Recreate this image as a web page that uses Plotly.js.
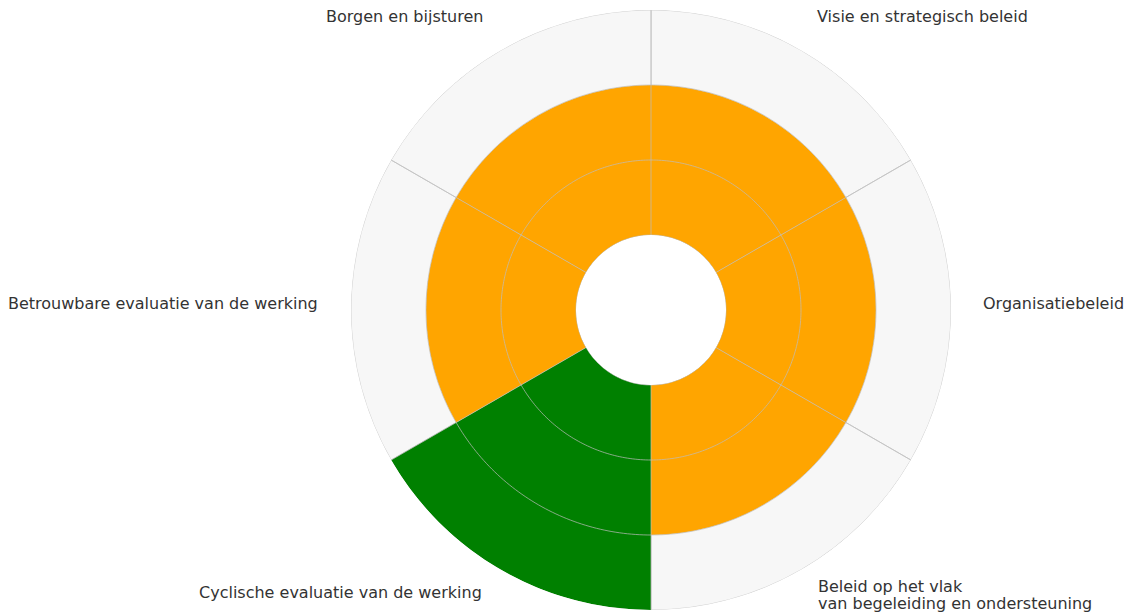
<!DOCTYPE html>
<html>
<head>
<meta charset="utf-8">
<script src="https://cdn.plot.ly/plotly-3.0.1.min.js"></script>
<style>html,body{margin:0;padding:0;background:#fff;}#chart{width:1127px;height:615px;}</style>
</head>
<body>
<div id="chart"></div>
<script>
// ---- data ----
const categories = [
  "Visie en strategisch beleid",
  "Organisatiebeleid",
  "Beleid op het vlak<br>van begeleiding en ondersteuning",
  "Cyclische evaluatie van de werking",
  "Betrouwbare evaluatie van de werking",
  "Borgen en bijsturen"
];
const scores = [2, 2, 2, 3, 2, 2];
const maxScore = 3;
const gridLevels = [0, 1, 2];
const levelColors = {1: "#d62728", 2: "#FFA500", 3: "#008000"};

// ---- derived ----
const n = categories.length;
const step = 360 / n;
const thetas = categories.map((c, i) => i * step + step / 2);
const maxValues = categories.map(() => maxScore);
const barColors = scores.map(s => levelColors[s]);

const gridCol = "rgba(190,190,190,0.7)";

const traces = [
  {
    type: "barpolar",
    r: maxValues,
    theta: thetas,
    width: categories.map(() => step),
    marker: {color: "#f7f7f7", line: {color: "#d4d4d4", width: 1}},
    hoverinfo: "skip",
    showlegend: false
  },
  {
    type: "barpolar",
    r: scores,
    theta: thetas,
    width: categories.map(() => step),
    marker: {color: barColors, line: {width: 0}},
    text: categories,
    hoverinfo: "text+r",
    showlegend: false
  }
];

// grid circles drawn above the bars
const circleTheta = [];
for (let a = 0; a <= 360; a += 1) circleTheta.push(a);
gridLevels.forEach(lv => {
  traces.push({
    type: "scatterpolar", mode: "lines",
    r: circleTheta.map(() => lv), theta: circleTheta,
    line: {color: gridCol, width: 1},
    hoverinfo: "skip", showlegend: false
  });
});
// radial grid lines at segment boundaries
categories.forEach((c, i) => {
  traces.push({
    type: "scatterpolar", mode: "lines",
    r: [0, maxScore], theta: [i * step, i * step],
    line: {color: gridCol, width: 1},
    hoverinfo: "skip", showlegend: false
  });
});

// label placement (pixel positions converted to paper coords)
const W = 1127, H = 615;
const labelPos = [
  {x: 816, y: 17, xa: "left"},
  {x: 982, y: 303, xa: "left"},
  {x: 817, y: 586, xa: "left"},
  {x: 483, y: 592, xa: "right"},
  {x: 319, y: 303, xa: "right"},
  {x: 484, y: 17, xa: "right"}
];
const lineGap = 17;
const annotations = [];
categories.forEach((c, i) => {
  c.split("<br>").forEach((line, k) => {
    annotations.push({
      text: line,
      xref: "paper", yref: "paper",
      x: labelPos[i].x / W,
      y: 1 - (labelPos[i].y + k * lineGap) / H,
      xanchor: labelPos[i].xa,
      yanchor: "middle",
      showarrow: false,
      borderpad: 0,
      font: {family: "DejaVu Sans", size: 16, color: "#333"}
    });
  });
});

const cx = 651, cy = 310, R = 300;
const layout = {
  width: W, height: H,
  margin: {l: 0, r: 0, t: 0, b: 0},
  paper_bgcolor: "#fff",
  showlegend: false,
  polar: {
    domain: {x: [(cx - R) / W, (cx + R) / W], y: [1 - (cy + R) / H, 1 - (cy - R) / H]},
    hole: 0.25,
    bgcolor: "#fff",
    barmode: "overlay",
    radialaxis: {
      range: [0, maxScore],
      showticklabels: false,
      ticks: "",
      showline: false,
      showgrid: false
    },
    angularaxis: {
      thetaunit: "degrees",
      rotation: 90,
      direction: "clockwise",
      showticklabels: false,
      ticks: "",
      showline: false,
      showgrid: false
    }
  },
  annotations: annotations
};

Plotly.newPlot("chart", traces, layout, {displayModeBar: false, staticPlot: true});
</script>
</body>
</html>
